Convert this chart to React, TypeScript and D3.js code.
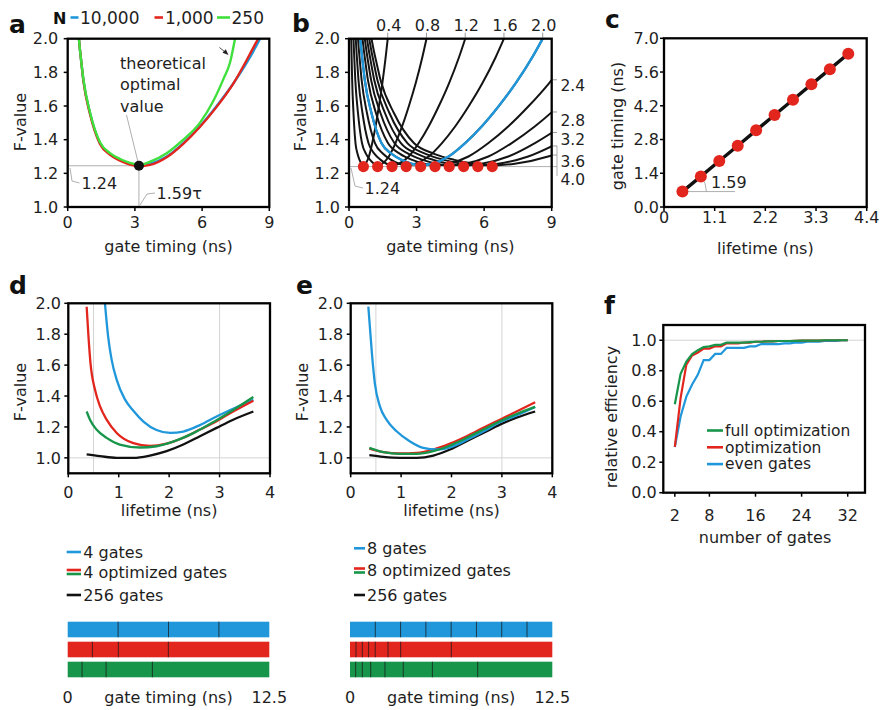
import React from 'react';
import * as d3 from 'd3';

// ---------- data ----------
// panel a: F-value vs gate timing (lifetime 2 ns) for N photons
const aTime10000 = [0.5, 0.55, 0.6, 0.7, 1.0, 1.44, 1.89, 2.34, 2.78, 3.2, 3.68, 4.42, 5.16, 5.9, 6.65, 7.4, 8.14, 8.59];
const aF10000 = [2.0, 1.93, 1.87, 1.755, 1.557, 1.38, 1.316, 1.28, 1.257, 1.247, 1.257, 1.3, 1.38, 1.48, 1.6, 1.735, 1.89, 2.0];
const aTime1000 = [0.5, 0.55, 0.6, 0.7, 1.0, 1.44, 1.89, 2.34, 2.78, 3.2, 3.68, 4.42, 5.16, 5.9, 6.65, 7.4, 8.1, 8.5];
const aF1000 = [2.0, 1.93, 1.87, 1.75, 1.55, 1.375, 1.31, 1.275, 1.252, 1.243, 1.25, 1.295, 1.375, 1.475, 1.595, 1.735, 1.9, 2.0];
const aTime250 = [0.5, 0.55, 0.6, 0.7, 1.0, 1.44, 1.89, 2.34, 2.78, 3.2, 3.68, 4.42, 5.16, 5.9, 6.5, 6.95, 7.25, 7.47];
const aF250 = [2.0, 1.93, 1.87, 1.76, 1.56, 1.385, 1.32, 1.285, 1.262, 1.25, 1.27, 1.32, 1.4, 1.5, 1.63, 1.76, 1.86, 2.0];
const aOptTime = 3.18;
const aOptF = 1.245;
const aLegend = ['10,000', '1,000', '250'];

// panel b: normalised curve (gate timing / lifetime) and lifetimes
const bNormU = [0.25, 0.275, 0.3, 0.35, 0.5, 0.72, 0.945, 1.17, 1.39, 1.6, 1.84, 2.21, 2.58, 2.95, 3.325, 3.7, 4.07, 4.3];
const bNormF = [2.0, 1.93, 1.87, 1.755, 1.557, 1.38, 1.316, 1.28, 1.257, 1.247, 1.257, 1.3, 1.38, 1.48, 1.6, 1.735, 1.89, 2.0];
const bLifetimes = [0.4, 0.8, 1.2, 1.6, 2.0, 2.4, 2.8, 3.2, 3.6, 4.0];
const bOptTiming = [0.64, 1.27, 1.91, 2.54, 3.18, 3.82, 4.45, 5.09, 5.72, 6.36];
const bOptF = 1.24;

// panel c
const cLifetime = [0.4, 0.8, 1.2, 1.6, 2.0, 2.4, 2.8, 3.2, 3.6, 4.0];
const cGateTiming = [0.64, 1.27, 1.91, 2.54, 3.18, 3.82, 4.45, 5.09, 5.72, 6.36];

// panel d (4 gates)
const dBlueX = [0.727, 0.79, 0.86, 0.96, 1.12, 1.29, 1.49, 1.75, 2.02, 2.28, 2.61, 2.94, 3.27, 3.67];
const dBlueY = [2.0, 1.785, 1.634, 1.505, 1.38, 1.305, 1.235, 1.18, 1.161, 1.17, 1.212, 1.268, 1.318, 1.376];
const dRedX = [0.364, 0.4, 0.44, 0.53, 0.63, 0.76, 0.96, 1.29, 1.62, 1.95, 2.28, 2.61, 2.94, 3.27, 3.67];
const dRedY = [1.978, 1.785, 1.613, 1.44, 1.333, 1.247, 1.161, 1.095, 1.077, 1.092, 1.13, 1.183, 1.237, 1.3, 1.37];
const dGreenX = [0.364, 0.43, 0.56, 0.76, 1.02, 1.42, 1.75, 2.08, 2.48, 2.88, 3.27, 3.67];
const dGreenY = [1.3, 1.247, 1.183, 1.129, 1.086, 1.067, 1.075, 1.105, 1.16, 1.232, 1.31, 1.394];
const dBlackX = [0.364, 0.63, 0.96, 1.29, 1.62, 1.95, 2.28, 2.61, 2.94, 3.27, 3.67];
const dBlackY = [1.022, 1.011, 1.0, 1.0, 1.015, 1.043, 1.086, 1.14, 1.194, 1.247, 1.3];

// panel e (8 gates)
const eBlueX = [0.35, 0.38, 0.42, 0.48, 0.58, 0.71, 0.91, 1.17, 1.44, 1.71, 1.97, 2.3, 2.63, 2.96, 3.29, 3.66];
const eBlueY = [1.978, 1.85, 1.68, 1.48, 1.333, 1.247, 1.172, 1.108, 1.065, 1.054, 1.068, 1.115, 1.17, 1.23, 1.275, 1.33];
const eX = [0.37, 0.65, 0.98, 1.31, 1.64, 1.97, 2.3, 2.63, 2.96, 3.29, 3.66];
const eRedY = [1.06, 1.037, 1.028, 1.032, 1.054, 1.092, 1.14, 1.194, 1.247, 1.3, 1.36];
const eGreenY = [1.065, 1.037, 1.026, 1.026, 1.043, 1.08, 1.129, 1.183, 1.237, 1.284, 1.33];
const eBlackY = [1.017, 1.006, 1.0, 1.0, 1.015, 1.054, 1.108, 1.161, 1.215, 1.26, 1.3];

// panel f
const fGates = [2, 3, 4, 5, 6, 7, 8, 9, 10, 11, 12, 13, 14, 15, 16, 17, 18, 19, 20, 21, 22, 23, 24, 25, 26, 27, 28, 29, 30, 31, 32];
const fFull = [0.58, 0.78, 0.86, 0.91, 0.935, 0.955, 0.96, 0.97, 0.97, 0.985, 0.985, 0.985, 0.985, 0.988, 0.99, 0.99, 0.993, 0.993, 0.995, 0.995, 0.995, 0.996, 0.997, 0.997, 0.998, 0.998, 1.0, 1.0, 1.0, 1.0, 1.0];
const fOpt = [0.3, 0.62, 0.84, 0.9, 0.92, 0.945, 0.945, 0.96, 0.96, 0.98, 0.98, 0.98, 0.985, 0.985, 0.99, 0.99, 0.993, 0.993, 0.995, 0.995, 0.995, 0.996, 0.997, 0.997, 0.998, 0.998, 1.0, 1.0, 1.0, 1.0, 1.0];
const fEven = [0.3, 0.5, 0.63, 0.71, 0.775, 0.87, 0.87, 0.91, 0.91, 0.95, 0.95, 0.95, 0.95, 0.96, 0.96, 0.975, 0.975, 0.975, 0.975, 0.98, 0.98, 0.985, 0.985, 0.99, 0.99, 0.99, 0.995, 0.995, 0.995, 1.0, 1.0];
const fLegend = ['full optimization', 'optimization', 'even gates'];

// gate boundaries (ns) for bars
const dEvenGates = [3.125, 6.25, 9.375];
const dOptRedGates = [1.53, 3.14, 6.24];
const dOptGreenGates = [0.89, 2.38, 5.25];
const eEvenGates = [1.5625, 3.125, 4.6875, 6.25, 7.8125, 9.375, 10.9375];
const eOptRedGates = [0.37, 0.76, 1.15, 1.56, 2.35, 3.13, 6.26];
const eOptGreenGates = [0.35, 0.76, 1.28, 2.16, 3.29, 5.09, 7.89];

// ---------- style ----------
const FONT = "'DejaVu Sans', sans-serif";
const BLUE = '#1f97da';
const RED = '#e2261e';
const LGREEN = '#3fe03c';
const DGREEN = '#17954a';
const TXT = '#1e1e1e';
const GRAY = '#9a9a9a';

type Box = { x0: number; x1: number; y0: number; y1: number };

function Frame({ box, x, y, xTicks, yTicks, xFmt, yFmt, xOff, yOff }: any) {
  return (
    <g>
      {xTicks.map((t: number) => (
        <g key={'x' + t}>
          <line x1={x(t)} x2={x(t)} y1={box.y1} y2={box.y1 + 4} stroke="#000" strokeWidth={1.5} />
          <text x={x(t)} y={box.y1 + xOff} textAnchor="middle" fontSize={16} fill={TXT}>{xFmt(t)}</text>
        </g>
      ))}
      {yTicks.map((t: number) => (
        <g key={'y' + t}>
          <line x1={box.x0 - 4} x2={box.x0} y1={y(t)} y2={y(t)} stroke="#000" strokeWidth={1.5} />
          <text x={box.x0 - yOff} y={y(t)} dy="0.36em" textAnchor="end" fontSize={16} fill={TXT}>{yFmt(t)}</text>
        </g>
      ))}
      <rect x={box.x0} y={box.y0} width={box.x1 - box.x0} height={box.y1 - box.y0} fill="none" stroke="#000" strokeWidth={2.3} />
    </g>
  );
}

const f1 = (v: number) => v.toFixed(1);
const fInt = (v: number) => String(v);

function pathOf(xs: number[], ys: number[], sx: any, sy: any, curve: any = d3.curveMonotoneX) {
  const pts = xs.map((v, i) => [v, ys[i]] as [number, number]);
  return d3.line<[number, number]>().x(p => sx(p[0])).y(p => sy(p[1])).curve(curve)(pts) || '';
}

function YTitle({ x, y, text }: { x: number; y: number; text: string }) {
  return <text transform={`translate(${x},${y}) rotate(-90)`} textAnchor="middle" fontSize={16} fill={TXT}>{text}</text>;
}

function PanelLabel({ x, y, t }: { x: number; y: number; t: string }) {
  return <text x={x} y={y} fontSize={25} fontWeight="bold" fill="#111">{t}</text>;
}

export default function App() {
  // ---- panel a ----
  const A: Box = { x0: 67.7, x1: 269.3, y0: 38.7, y1: 207 };
  const ax = d3.scaleLinear().domain([0, 9]).range([A.x0, A.x1]);
  const ay = d3.scaleLinear().domain([1, 2]).range([A.y1, A.y0]);
  const yTicksF = [1.0, 1.2, 1.4, 1.6, 1.8, 2.0];

  // ---- panel b ----
  const B: Box = { x0: 349, x1: 551.7, y0: 38.7, y1: 207 };
  const bx = d3.scaleLinear().domain([0, 9]).range([B.x0, B.x1]);
  const by = d3.scaleLinear().domain([1, 2]).range([B.y1, B.y0]);
  const bCurve = (tau: number) => pathOf(bNormU.map(u => u * tau), bNormF, bx, by);
  const uEnd = bNormU[bNormU.length - 1];
  const uInterp = d3.scaleLinear().domain(bNormU.slice(8)).range(bNormF.slice(8)).clamp(true);
  const bRightLabelY = [90.7, 125.7, 144.7, 166.5, 185];

  // ---- panel c ----
  const C: Box = { x0: 664, x1: 866.7, y0: 38.3, y1: 207 };
  const cx = d3.scaleLinear().domain([0, 4.4]).range([C.x0, C.x1]);
  const cy = d3.scaleLinear().domain([0, 7]).range([C.y1, C.y0]);
  const p0x = cx(cLifetime[0]), p0y = cy(cGateTiming[0]);
  const ang = Math.atan2(p0y - cy(cGateTiming[1]), cx(cLifetime[1]) - p0x);
  const r = 24;

  // ---- panel d / e ----
  const D: Box = { x0: 68.3, x1: 270, y0: 303.3, y1: 473.3 };
  const dx = d3.scaleLinear().domain([0, 4]).range([D.x0, D.x1]);
  const dy = d3.scaleLinear().domain([0.9, 2]).range([D.y1, D.y0]);
  const E: Box = { x0: 350.7, x1: 552.3, y0: 303.3, y1: 473.3 };
  const ex = d3.scaleLinear().domain([0, 4]).range([E.x0, E.x1]);
  const ey = d3.scaleLinear().domain([0.9, 2]).range([E.y1, E.y0]);

  // ---- panel f ----
  const F: Box = { x0: 663.3, x1: 865, y0: 325, y1: 492.7 };
  const fx = d3.scaleLinear().domain([0, 35]).range([F.x0, F.x1]);
  const fy = d3.scaleLinear().domain([0, 1.1]).range([F.y1, F.y0]);

  // bars
  const dBarX = d3.scaleLinear().domain([0, 12.5]).range([67.7, 269.3]);
  const eBarX = d3.scaleLinear().domain([0, 12.5]).range([350, 552.3]);
  const barRows = [
    { y: 621.7, color: BLUE },
    { y: 641.7, color: RED },
    { y: 661.7, color: DGREEN },
  ];
  const Bars = ({ sx, gates }: { sx: any; gates: number[][] }) => (
    <g>
      {barRows.map((row, i) => (
        <g key={i}>
          <rect x={sx(0)} y={row.y} width={sx(12.5) - sx(0)} height={15.6} fill={row.color} />
          {gates[i].map((g, j) => (
            <line key={j} x1={sx(g)} x2={sx(g)} y1={row.y} y2={row.y + 15.6} stroke="#1a1a1a" strokeOpacity={0.75} strokeWidth={1} />
          ))}
        </g>
      ))}
      <text x={sx(0)} y={703} textAnchor="middle" fontSize={16} fill={TXT}>0</text>
      <text x={(sx(0) + sx(12.5)) / 2} y={703} textAnchor="middle" fontSize={16} fill={TXT}>gate timing (ns)</text>
      <text x={sx(12.5)} y={703} textAnchor="middle" fontSize={16} fill={TXT}>12.5</text>
    </g>
  );

  const gridStyle = { stroke: '#cfcfcf', strokeWidth: 0.9 };

  return (
    <svg width={880} height={710} style={{ position: 'absolute', left: 0, top: 0, background: '#fff' }} fontFamily={FONT}>
      <defs>
        <clipPath id="clipB"><rect x={B.x0} y={B.y0 - 2} width={B.x1 - B.x0} height={B.y1 - B.y0 + 2} /></clipPath>
        <clipPath id="clipA"><rect x={A.x0} y={A.y0 - 2} width={A.x1 - A.x0} height={A.y1 - A.y0 + 2} /></clipPath>
      </defs>
      <rect width={880} height={710} fill="#fff" />

      {/* ===== panel a ===== */}
      <PanelLabel x={9} y={33} t="a" />
      <text x={53} y={24} fontSize={16} fontWeight="bold" fill="#111">N</text>
      {[{ x1: 70.5, x2: 78.5, tx: 80, c: BLUE }, { x1: 154.5, x2: 163, tx: 165, c: RED }, { x1: 217, x2: 230, tx: 231.5, c: LGREEN }].map((l, i) => (
        <g key={i}>
          <line x1={l.x1} x2={l.x2} y1={17.5} y2={17.5} stroke={l.c} strokeWidth={2.6} />
          <text x={l.tx} y={24} fontSize={17} fill={TXT}>{aLegend[i]}</text>
        </g>
      ))}
      <line x1={A.x0} x2={ax(aOptTime)} y1={ay(aOptF)} y2={ay(aOptF)} stroke={GRAY} strokeWidth={0.8} />
      <line x1={ax(aOptTime)} x2={ax(aOptTime)} y1={ay(aOptF)} y2={A.y1} stroke={GRAY} strokeWidth={0.8} />
      <g clipPath="url(#clipA)">
        <path d={pathOf(aTime10000, aF10000, ax, ay)} fill="none" stroke={BLUE} strokeWidth={2.4} />
        <path d={pathOf(aTime1000, aF1000, ax, ay)} fill="none" stroke={RED} strokeWidth={2.4} />
        <path d={pathOf(aTime250, aF250, ax, ay)} fill="none" stroke={LGREEN} strokeWidth={2.4} />
      </g>
      <line x1={126.5} y1={115} x2={ax(aOptTime)} y2={ay(aOptF)} stroke={GRAY} strokeWidth={0.8} />
      <circle cx={ax(aOptTime)} cy={ay(aOptF)} r={5} fill="#111" />
      <text x={120} y={68.5} fontSize={16} fill={TXT}>theoretical</text>
      <text x={120} y={90} fontSize={16} fill={TXT}>optimal</text>
      <text x={120} y={111.5} fontSize={16} fill={TXT}>value</text>
      <polyline points="70,168 72,181 79.5,183" fill="none" stroke={GRAY} strokeWidth={0.8} />
      <text x={81.5} y={188.5} fontSize={16} fill={TXT}>1.24</text>
      <polyline points="140,205 147,194 155,193" fill="none" stroke={GRAY} strokeWidth={0.8} />
      <text x={156.5} y={199} fontSize={16} fill={TXT}>1.59τ</text>
      <line x1={219.5} y1={47.5} x2={225} y2={52} stroke="#222" strokeWidth={0.8} />
      <polygon points="228.5,55 222.5,52.8 225.8,49.3" fill="#222" />
      <Frame box={A} x={ax} y={ay} xTicks={[0, 3, 6, 9]} yTicks={yTicksF} xFmt={fInt} yFmt={f1} xOff={21} yOff={9.4} />
      <YTitle x={25.5} y={122} text="F-value" />
      <text x={(A.x0 + A.x1) / 2} y={252} textAnchor="middle" fontSize={16} fill={TXT}>gate timing (ns)</text>

      {/* ===== panel b ===== */}
      <PanelLabel x={292} y={32} t="b" />
      <line x1={B.x0} x2={557} y1={by(bOptF)} y2={by(bOptF)} stroke={GRAY} strokeWidth={0.8} />
      <g clipPath="url(#clipB)">
        {bLifetimes.map(tau => (
          <path key={tau} d={bCurve(tau)} fill="none" stroke="#141414" strokeWidth={2} />
        ))}
        <path d={bCurve(2.0)} fill="none" stroke={BLUE} strokeWidth={2.4} />
      </g>
      {bOptTiming.map((t, i) => (
        <circle key={i} cx={bx(t)} cy={by(bOptF)} r={5.6} fill={RED} />
      ))}
      {bLifetimes.slice(0, 5).map(tau => (
        <g key={tau}>
          <line x1={bx(uEnd * tau)} x2={bx(uEnd * tau)} y1={B.y0 - 1} y2={B.y0 - 6} stroke={GRAY} strokeWidth={1} />
          <text x={bx(uEnd * tau) + 1} y={30.5} textAnchor="middle" fontSize={16} fill={TXT}>{tau.toFixed(1)}</text>
        </g>
      ))}
      {bLifetimes.slice(5).map((tau, i) => {
        const yEnd = by(uInterp(9 / tau));
        return (
          <g key={tau}>
            <line x1={B.x1 + 1} x2={557} y1={yEnd} y2={yEnd} stroke={GRAY} strokeWidth={1} />
            <text x={560.5} y={bRightLabelY[i]} fontSize={15.5} fill={TXT}>{tau.toFixed(1)}</text>
          </g>
        );
      })}
      <line x1={557} x2={557} y1={by(uInterp(9 / 3.6))} y2={176} stroke={GRAY} strokeWidth={0.8} />
      <polyline points="351,168 355,186 363,188" fill="none" stroke={GRAY} strokeWidth={0.8} />
      <text x={364.5} y={194} fontSize={16} fill={TXT}>1.24</text>
      <Frame box={B} x={bx} y={by} xTicks={[0, 3, 6, 9]} yTicks={yTicksF} xFmt={fInt} yFmt={f1} xOff={21} yOff={9} />
      <YTitle x={305.5} y={122} text="F-value" />
      <text x={(B.x0 + B.x1) / 2} y={252} textAnchor="middle" fontSize={16} fill={TXT}>gate timing (ns)</text>

      {/* ===== panel c ===== */}
      <PanelLabel x={605} y={28} t="c" />
      <line x1={p0x} x2={735} y1={p0y} y2={p0y} stroke={GRAY} strokeWidth={0.8} />
      <path d={`M${p0x + r},${p0y} A${r},${r} 0 0 0 ${p0x + r * Math.cos(ang)},${p0y - r * Math.sin(ang)}`} fill="none" stroke={GRAY} strokeWidth={0.8} />
      <path d={pathOf(cLifetime, cGateTiming, cx, cy, d3.curveLinear)} fill="none" stroke="#111" strokeWidth={3.4} />
      {cLifetime.map((l, i) => (
        <circle key={i} cx={cx(l)} cy={cy(cGateTiming[i])} r={6} fill={RED} />
      ))}
      <text x={711} y={187.5} fontSize={16} fill={TXT}>1.59</text>
      <Frame box={C} x={cx} y={cy} xTicks={[0, 1.1, 2.2, 3.3, 4.4]} yTicks={[0, 1.4, 2.8, 4.2, 5.6, 7.0]} xFmt={(v: number) => (v === 0 ? '0' : v.toFixed(1))} yFmt={f1} xOff={16} yOff={5} />
      <YTitle x={623} y={126} text="gate timing  (ns)" />
      <text x={(C.x0 + C.x1) / 2} y={254} textAnchor="middle" fontSize={16} fill={TXT}>lifetime (ns)</text>

      {/* ===== panel d ===== */}
      <PanelLabel x={9} y={293.5} t="d" />
      <line x1={dx(0.5)} x2={dx(0.5)} y1={D.y0} y2={D.y1} {...gridStyle} />
      <line x1={dx(3)} x2={dx(3)} y1={D.y0} y2={D.y1} {...gridStyle} />
      <line x1={D.x0} x2={D.x1} y1={dy(1)} y2={dy(1)} {...gridStyle} />
      <path d={pathOf(dBlackX, dBlackY, dx, dy)} fill="none" stroke="#111" strokeWidth={2.3} />
      <path d={pathOf(dBlueX, dBlueY, dx, dy)} fill="none" stroke={BLUE} strokeWidth={2.3} />
      <path d={pathOf(dRedX, dRedY, dx, dy)} fill="none" stroke={RED} strokeWidth={2.3} />
      <path d={pathOf(dGreenX, dGreenY, dx, dy)} fill="none" stroke={DGREEN} strokeWidth={2.3} />
      <Frame box={D} x={dx} y={dy} xTicks={[0, 1, 2, 3, 4]} yTicks={yTicksF} xFmt={fInt} yFmt={f1} xOff={25} yOff={7.3} />
      <YTitle x={25.5} y={392} text="F-value" />
      <text x={(D.x0 + D.x1) / 2} y={515.5} textAnchor="middle" fontSize={16} fill={TXT}>lifetime (ns)</text>

      {/* ===== panel e ===== */}
      <PanelLabel x={296} y={293.5} t="e" />
      <line x1={ex(0.5)} x2={ex(0.5)} y1={E.y0} y2={E.y1} {...gridStyle} />
      <line x1={ex(3)} x2={ex(3)} y1={E.y0} y2={E.y1} {...gridStyle} />
      <line x1={E.x0} x2={E.x1} y1={ey(1)} y2={ey(1)} {...gridStyle} />
      <path d={pathOf(eX, eBlackY, ex, ey)} fill="none" stroke="#111" strokeWidth={2.3} />
      <path d={pathOf(eX, eRedY, ex, ey)} fill="none" stroke={RED} strokeWidth={2.3} />
      <path d={pathOf(eBlueX, eBlueY, ex, ey)} fill="none" stroke={BLUE} strokeWidth={2.3} />
      <path d={pathOf(eX, eGreenY, ex, ey)} fill="none" stroke={DGREEN} strokeWidth={2.3} />
      <Frame box={E} x={ex} y={ey} xTicks={[0, 1, 2, 3, 4]} yTicks={yTicksF} xFmt={fInt} yFmt={f1} xOff={25} yOff={7.4} />
      <YTitle x={308} y={392} text="F-value" />
      <text x={(E.x0 + E.x1) / 2} y={515.5} textAnchor="middle" fontSize={16} fill={TXT}>lifetime (ns)</text>

      {/* ===== panel f ===== */}
      <PanelLabel x={604} y={313.5} t="f" />
      <line x1={F.x0} x2={F.x1} y1={fy(1)} y2={fy(1)} {...gridStyle} />
      <path d={pathOf(fGates, fEven, fx, fy, d3.curveLinear)} fill="none" stroke={BLUE} strokeWidth={2.2} />
      <path d={pathOf(fGates, fOpt, fx, fy, d3.curveLinear)} fill="none" stroke={RED} strokeWidth={2.2} />
      <path d={pathOf(fGates, fFull, fx, fy, d3.curveLinear)} fill="none" stroke={DGREEN} strokeWidth={2.2} />
      {[DGREEN, RED, BLUE].map((c, i) => (
        <g key={i}>
          <line x1={707} x2={723} y1={430.5 + i * 16.8} y2={430.5 + i * 16.8} stroke={c} strokeWidth={2.6} />
          <text x={725} y={435.8 + i * 16.8} fontSize={15.5} fill={TXT}>{fLegend[i]}</text>
        </g>
      ))}
      <Frame box={F} x={fx} y={fy} xTicks={[2, 8, 16, 24, 32]} yTicks={[0, 0.2, 0.4, 0.6, 0.8, 1.0]} xFmt={fInt} yFmt={f1} xOff={28} yOff={6.6} />
      <YTitle x={617} y={417} text="relative efficiency" />
      <text x={765} y={542.5} textAnchor="middle" fontSize={16} fill={TXT}>number of gates</text>

      {/* ===== legends d / e ===== */}
      <line x1={66.7} x2={81} y1={552} y2={552} stroke={BLUE} strokeWidth={2.6} />
      <text x={83.3} y={557.5} fontSize={16} fill={TXT}>4 gates</text>
      <line x1={66.7} x2={81} y1={570} y2={570} stroke={RED} strokeWidth={2.6} />
      <line x1={66.7} x2={81} y1={574} y2={574} stroke={DGREEN} strokeWidth={2.6} />
      <text x={83.3} y={578.3} fontSize={16} fill={TXT}>4 optimized gates</text>
      <line x1={66.7} x2={81} y1={595} y2={595} stroke="#111" strokeWidth={2.6} />
      <text x={83.3} y={600.7} fontSize={16} fill={TXT}>256 gates</text>

      <line x1={354} x2={365} y1={548.3} y2={548.3} stroke={BLUE} strokeWidth={2.6} />
      <text x={367} y={553.5} fontSize={16} fill={TXT}>8 gates</text>
      <line x1={354} x2={365} y1={568.5} y2={568.5} stroke={RED} strokeWidth={2.6} />
      <line x1={354} x2={365} y1={572.5} y2={572.5} stroke={DGREEN} strokeWidth={2.6} />
      <text x={367} y={575.5} fontSize={16} fill={TXT}>8 optimized gates</text>
      <line x1={354} x2={365} y1={595} y2={595} stroke="#111" strokeWidth={2.6} />
      <text x={367} y={600.5} fontSize={16} fill={TXT}>256 gates</text>

      <Bars sx={dBarX} gates={[dEvenGates, dOptRedGates, dOptGreenGates]} />
      <Bars sx={eBarX} gates={[eEvenGates, eOptRedGates, eOptGreenGates]} />
    </svg>
  );
}
